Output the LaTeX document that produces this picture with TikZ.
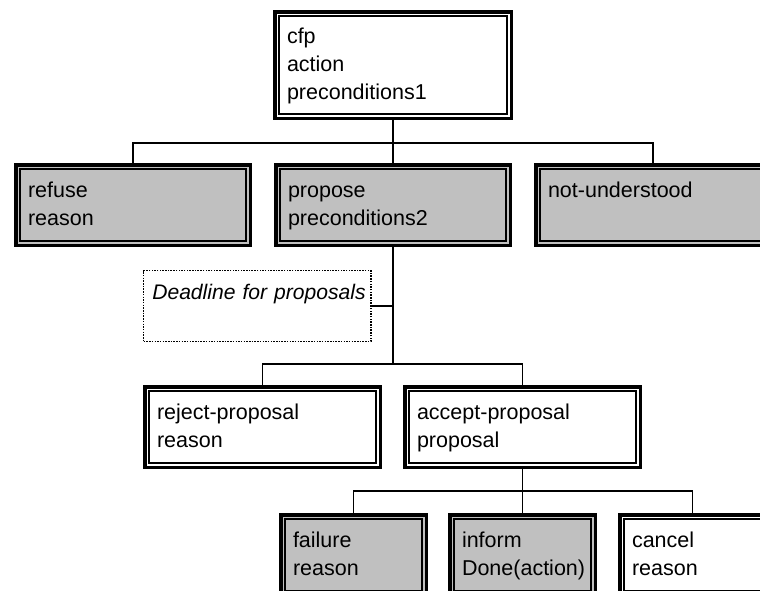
\documentclass[tikz,border=0pt]{standalone}
\usepackage{fontspec}
\setmainfont{Liberation Sans}
\begin{document}
\begin{tikzpicture}[x=1pt,y=-1pt,
  wire/.style={line width=1.2pt},
  msgbox/.style={draw, line width=3.5pt, fill=white, anchor=north west,
    inner xsep=12.25pt, inner ysep=0pt, align=left,
    text height=32.25pt, text depth=48.25pt, text width=210pt,
    font=\fontsize{21.5}{28}\selectfont,
    path picture={\draw[line width=1.3pt]
      ([shift={(4.2pt,4.2pt)}]path picture bounding box.south west) rectangle
      ([shift={(-4.2pt,-4.2pt)}]path picture bounding box.north east);}},
  shaded/.style={fill=gray75},
  narrow/.style={text width=121pt},
  note/.style={draw, line width=1.4pt, dash pattern=on 1.5pt off 1.2pt,
    anchor=north west, inner xsep=8.6pt, inner ysep=0pt, align=left,
    text width=210pt, text height=28.3pt, text depth=42.3pt,
    font=\fontsize{21.1}{28}\selectfont\itshape},
]
\definecolor{gray75}{HTML}{C0C0C0}
\useasboundingbox (0,0) rectangle (760,590);
\clip (0,0) rectangle (760,590);

% call for proposals
\node[msgbox, text width=212pt, text height=31.25pt, text depth=75.25pt]
  (cfp) at (273,10) {cfp\\action\\preconditions1};

% answers to the call
\node[msgbox, shaded] (refuse)  at (14,163)  {refuse\\reason};
\node[msgbox, shaded] (propose) at (274,163) {propose\\preconditions2};
\node[msgbox, shaded] (notund)  at (534,163) {not-understood};

% deadline annotation (kept on one line)
\node[note] (deadline) at (143,270) {\hbox to 210pt{Deadline for proposals\hss}};

% decisions on the proposal
\node[msgbox, text width=211pt] (reject) at (143,385) {reject-proposal\\reason};
\node[msgbox, text width=211pt] (accept) at (403,385) {accept-proposal\\proposal};

% outcomes
\node[msgbox, shaded, narrow] (failure) at (279,513) {failure\\reason};
\node[msgbox, shaded, narrow] (inform)  at (448,513) {inform\\Done(action)};
\node[msgbox, narrow]         (cancel)  at (618,513) {cancel\\reason};

% tree connectors
\coordinate (pjoin) at (393,364);
\draw[wire] (refuse.north) -- ++(0,-20) -| (notund.north);
\draw[wire] (cfp.south) -- (propose.north);
\draw[wire] (propose.south) -- (pjoin);
\draw[wire] (deadline.east) -- (deadline.east -| pjoin);
\draw[wire] (reject.north) -- ++(0,-21) -| (accept.north);
\draw[wire] (accept.south) -- (inform.north);
\draw[wire] (failure.north) -- ++(0,-22) -| (cancel.north);
\end{tikzpicture}
\end{document}
